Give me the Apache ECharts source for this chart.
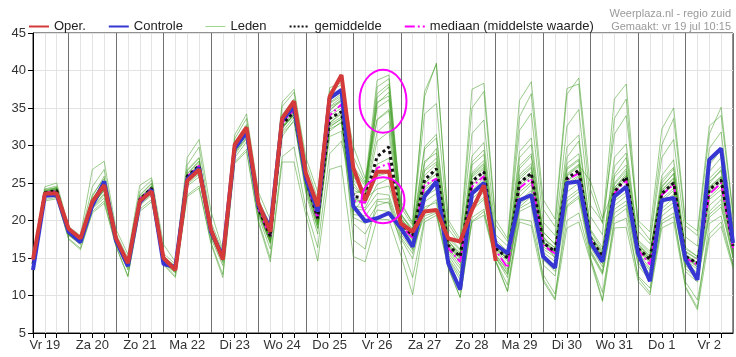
<!DOCTYPE html>
<html><head><meta charset="utf-8">
<script src="https://cdn.jsdelivr.net/npm/echarts@6/dist/echarts.min.js"></script>
<style>html,body{margin:0;padding:0;background:#fff}#c{width:736px;height:357px}</style>
</head><body><div id="c"></div>
<script>
// ---- data (6-hourly, Vr 19 06:00 .. Za 3 00:00) ----
const dayLabels = ['Vr 19','Za 20','Zo 21','Ma 22','Di 23','Wo 24','Do 25','Vr 26','Za 27','Zo 28','Ma 29','Di 30','Wo 31','Do 1','Vr 2','Za 3'];
const hourLabels = ['00','06','12','18'];
const yTicks = [5,10,15,20,25,30,35,40,45];

const oper = [14.8,23.6,23.6, 18.9,17.6,22.5,24.7, 17.6,14.3,22.6,23.9, 15.0,13.4,25.3,26.8,
  18.8,14.8,30.1,32.4, 22.3,18.5,33.6,35.9, 26.3,21.9,36.5,39.4, 27.0,22.7,26.5,26.5,
  19.6,18.5,21.2,21.4, 17.6,17.2,21.4,24.7, 14.6];
const controle = [13.4,23.3,23.4, 18.5,17.1,22.0,25.2, 17.3,13.9,22.4,24.1, 14.2,13.8,25.5,27.0,
  18.5,15.2,29.6,31.8, 22.0,19.0,33.4,35.2, 25.6,21.2,36.3,37.4, 21.9,19.9,20.3,21.0,
  19.0,16.5,23.2,25.2, 14.3,10.8,23.6,25.0, 16.8,15.6,22.7,23.4, 15.2,13.7,25.0,25.2,
  17.0,14.5,23.2,24.5, 15.6,11.9,22.7,23.0, 14.8,12.1,28.1,29.6, 17.0];
const gemiddelde = [14.2,23.7,24.0, 18.4,17.3,22.4,24.6, 17.4,14.2,22.8,24.3, 14.7,13.6,25.9,27.3,
  18.5,15.0,29.6,31.8, 21.6,17.9,32.8,34.5, 25.5,20.3,33.6,34.5, 23.2,23.0,28.5,29.8,
  19.6,18.0,25.4,26.9, 16.7,15.2,25.2,26.5, 16.3,15.0,25.0,26.3, 17.0,15.9,25.6,26.7,
  17.6,15.2,23.8,25.8, 16.3,14.8,23.6,25.0, 15.2,14.3,24.1,25.4, 16.6];
const mediaan = [14.3,23.7,23.9, 18.4,17.3,22.3,24.5, 17.4,14.1,22.9,24.3, 14.6,13.6,25.9,27.3,
  18.4,14.9,29.6,31.9, 21.5,17.8,33.0,34.8, 25.3,20.2,34.0,35.5, 22.6,22.4,27.0,27.6,
  19.3,17.7,24.7,25.6, 16.3,14.5,24.5,25.9, 16.0,13.7,24.3,25.6, 16.7,15.6,25.4,26.3,
  17.4,14.8,23.6,25.4, 16.1,14.1,23.4,24.8, 15.0,14.1,23.5,25.0, 16.3];

const leden1 = [14.6,24.2,24.6, 18.9,17.8,24.5,26.8, 18.2,15.0,23.9,25.4, 15.6,14.2,27.4,29.8, 19.8,15.8,30.9,33.6, 22.8,19.4,35.2,37.1, 27.6,22.9,37.2,38.1, 28.5,25.1,38.7,39.4, 22.1,19.8,36.5,41.0, 19.6,17.1,35.0,37.2, 19.4,17.2,33.8,36.9, 21.5,19.2,36.8,39.0, 24.1,19.6,36.2,38.2, 19.5,17.4,30.1,33.6, 19.3,18.0,31.5,35.1, 21.0];
const leden2 = [13.6,22.6,22.9, 17.5,16.1,21.0,22.3, 16.5,12.5,21.2,22.5, 14.1,12.4,23.2,24.3, 16.9,12.4,27.6,29.2, 19.7,14.5,27.8,27.8, 20.7,14.6,26.8,27.3, 15.2,14.5,20.2,20.1, 15.4,10.1,19.8,20.7, 13.6,9.7,19.8,20.7, 14.5,10.5,19.8,19.3, 11.9,9.4,19.0,19.8, 14.5,9.2,19.0,19.1, 11.9,10.1,19.0,19.8, 11.0,8.1,17.6,19.2, 13.6];
const leden3 = [14.3,24.0,24.4, 18.6,17.6,23.2,25.9, 17.8,14.6,23.4,25.0, 15.1,13.9,26.8,28.4, 19.2,15.4,30.4,32.8, 22.4,18.6,34.1,36.2, 26.8,21.4,36.3,37.6, 26.0,23.8,36.9,38.2, 21.0,18.4,29.5,31.0, 17.4,15.2,27.8,29.4, 17.0,15.2,28.4,30.1, 17.9,15.6,27.6,28.9, 18.0,15.4,26.1,28.4, 16.8,15.0,25.0,26.9, 15.6,14.2,26.5,28.4, 17.2];
const leden4 = [14.0,23.5,24.1, 18.3,17.2,22.0,24.0, 17.2,14.1,22.9,24.6, 14.6,13.4,25.5,27.0, 18.3,14.8,29.2,31.5, 21.4,17.6,33.0,35.0, 25.7,20.5,34.6,36.2, 25.0,22.8,35.6,37.1, 22.6,19.5,37.2,40.8, 20.1,17.5,37.5,38.3, 20.1,17.6,36.0,38.5, 22.8,20.2,37.6,38.2, 22.0,19.8,31.5,34.0, 20.0,18.5,32.2,35.0, 19.8,18.6,32.6,34.0, 20.8];
const leden5 = [14.2,23.7,24.0, 18.4,17.3,22.3,24.4, 17.4,14.2,22.8,24.3, 14.7,13.6,25.8,27.2, 18.5,15.1,29.6,31.8, 21.6,17.9,32.9,34.7, 25.5,20.4,33.9,35.0, 22.8,22.6,27.5,28.3, 19.4,17.8,25.0,26.2, 16.5,14.8,24.8,26.0, 16.0,14.6,24.6,25.9, 16.8,15.7,25.4,26.5, 17.3,15.0,23.7,25.6, 16.1,14.5,23.5,24.9, 15.1,14.0,23.8,25.0, 16.4];
const leden6 = [14.1,23.4,23.8, 18.2,17.0,21.8,23.6, 17.1,13.8,22.3,23.8, 14.4,13.1,25.0,26.6, 18.0,14.6,29.0,31.2, 21.0,17.1,32.2,34.2, 24.8,19.6,33.0,34.4, 21.9,21.7,24.8,25.6, 19.0,17.2,23.8,24.7, 16.0,14.0,23.4,24.9, 15.5,13.2,23.2,24.8, 16.2,15.1,24.6,25.8, 16.9,14.2,23.1,24.6, 15.8,13.6,22.6,24.0, 14.7,13.5,22.8,24.1, 16.0];
const leden7 = [14.5,23.9,24.3, 18.7,17.6,22.9,25.2, 17.6,14.5,22.5,23.9, 14.9,13.8,26.2,27.9, 18.9,15.4,29.9,32.1, 21.2,17.0,31.6,33.2, 24.0,18.9,31.2,31.9, 19.6,18.2,21.4,21.2, 17.6,14.9,21.8,22.4, 14.9,12.1,21.4,22.8, 15.0,12.4,21.6,22.5, 14.1,12.6,22.0,23.3, 15.6,12.8,21.0,22.1, 14.0,12.0,20.6,21.9, 13.2,11.8,20.4,21.8, 15.0];
const leden8 = [15.5,24.5,25.0, 19.2,18.0,26.8,27.9, 18.8,15.5,24.7,25.7, 16.8,14.5,28.4,30.8, 21.2,16.1,31.4,34.2, 23.8,20.1,35.8,37.5, 28.4,23.8,37.7,38.4, 29.9,25.6,33.5,34.8, 20.6,18.8,27.6,29.6, 17.9,16.2,26.4,28.0, 16.8,15.4,26.9,28.6, 18.4,16.9,28.4,30.6, 18.8,16.4,27.2,29.0, 17.4,15.9,24.4,26.3, 16.2,15.2,24.9,26.8, 18.0];
const leden9 = [13.8,22.8,23.1, 17.6,16.3,21.2,22.6, 16.6,12.6,21.5,22.8, 14.2,12.6,23.4,24.6, 17.1,12.8,27.8,29.5, 20.0,15.0,28.5,29.8, 21.6,16.4,28.9,30.6, 23.5,24.2,37.8,38.9, 21.8,19.3,34.2,35.6, 18.9,16.8,31.6,33.4, 18.1,16.6,32.0,34.3, 19.8,18.0,32.6,34.8, 20.5,18.1,33.6,36.2, 18.6,16.9,28.4,30.8, 17.8,16.6,29.6,31.8, 19.2];
const leden10 = [14.4,23.8,24.2, 18.5,17.5,22.6,24.8, 17.5,14.3,23.1,24.5, 14.8,13.7,26.0,27.6, 18.7,15.2,29.8,32.0, 21.8,18.2,33.4,35.3, 26.0,21.0,34.8,35.9, 24.5,23.1,30.6,31.8, 20.2,18.6,26.8,28.3, 17.2,15.7,26.2,27.6, 16.6,15.5,26.1,27.6, 17.5,16.4,26.8,28.0, 18.1,15.8,25.0,26.9, 16.9,15.3,24.6,26.2, 15.9,14.9,25.2,26.6, 17.1];
const leden11 = [13.9,23.2,23.5, 18.0,16.8,21.6,23.0, 16.9,13.4,22.0,23.4, 14.3,13.0,24.6,25.8, 17.6,14.0,28.4,30.5, 20.6,16.2,31.2,33.4, 23.6,18.2,31.9,33.2, 20.8,20.6,22.8,22.9, 18.2,16.0,22.5,23.6, 15.4,13.0,22.2,23.8, 15.0,12.8,21.8,23.2, 15.2,13.8,23.0,24.2, 16.0,13.2,22.0,23.3, 15.0,12.8,21.6,23.0, 14.0,12.5,21.2,22.8, 15.4];
const leden12 = [14.2,23.6,23.9, 18.4,17.2,22.1,24.2, 17.3,14.0,22.6,24.0, 14.6,13.5,25.6,26.9, 18.3,14.9,29.3,31.5, 21.5,17.5,33.2,35.6, 26.2,21.8,35.7,36.9, 27.2,24.9,36.4,37.8, 19.8,16.2,20.6,21.2, 14.2,10.6,20.4,21.5, 14.6,11.4,20.2,19.9, 12.8,10.2,20.0,21.0, 14.8,10.4,19.6,20.3, 12.6,11.0,19.6,20.5, 11.8,9.4,18.2,19.8, 14.0];
const leden13 = [14.0,23.3,23.7, 18.1,17.0,22.4,25.0, 17.0,14.0,22.9,24.4, 14.5,13.4,25.2,26.3, 18.2,14.7,29.1,31.0, 21.2,17.6,32.5,34.1, 25.1,19.9,32.6,33.5, 21.2,23.2,26.0,26.8, 19.2,17.4,24.4,25.6, 16.2,14.4,24.0,25.6, 16.2,14.9,25.1,26.5, 17.2,15.0,26.0,27.4, 25.2,20.3,24.4,26.0, 16.4,14.9,23.3,25.2, 15.3,13.8,24.0,25.4, 16.6];
const leden14 = [14.3,23.6,24.0, 18.3,17.2,22.0,24.2, 17.4,14.4,22.6,24.2, 14.6,13.6,25.7,27.2, 18.4,15.0,29.4,31.6, 21.4,17.2,32.4,34.4, 25.0,19.5,33.0,34.2, 17.4,16.2,22.6,22.3, 17.0,12.4,20.2,21.0, 13.8,9.8,19.9,21.2, 14.6,10.6,21.2,22.0, 12.2,9.6,21.8,23.0, 15.0,9.4,20.4,21.6, 12.4,10.4,20.0,21.0, 11.2,8.4,19.6,20.6, 14.0];
const leden15 = [14.4,23.9,24.3, 18.6,17.4,22.8,25.3, 17.6,14.4,23.0,24.6, 14.9,13.7,26.3,27.9, 18.8,15.3,29.9,32.3, 21.9,18.3,33.5,35.2, 26.1,21.0,35.1,36.0, 25.8,24.0,33.4,34.6, 20.1,18.4,27.9,29.0, 17.0,15.6,27.4,28.8, 16.9,15.6,27.3,28.9, 17.8,16.3,27.0,28.2, 17.9,15.7,25.8,27.4, 16.8,15.2,25.4,27.1, 15.8,14.8,25.6,27.2, 17.0];
const leden16 = [14.0,23.5,23.8, 18.2,17.1,22.1,24.0, 17.2,13.9,22.6,24.0, 14.5,13.4,25.4,26.8, 18.2,14.8,29.3,31.4, 21.3,17.5,32.4,34.0, 25.0,19.8,32.8,33.8, 23.0,22.2,25.9,26.4, 19.0,17.6,24.1,25.3, 16.2,14.6,23.9,25.2, 15.8,14.2,23.8,25.1, 16.5,15.4,24.9,26.0, 17.0,14.8,22.8,24.9, 15.9,14.3,22.9,24.3, 14.9,13.8,23.1,24.6, 16.2];
const leden17 = [14.2,23.8,24.1, 18.5,17.4,22.5,24.6, 17.5,14.1,22.7,24.1, 14.8,13.5,25.9,27.4, 18.6,15.0,29.7,31.9, 21.7,17.8,33.1,35.0, 25.6,20.6,34.3,35.4, 24.0,23.5,31.8,33.2, 19.8,18.2,26.0,27.5, 16.8,15.3,25.8,27.1, 16.4,15.1,25.5,27.0, 17.2,16.0,25.9,27.2, 17.6,15.3,24.3,26.3, 16.5,14.9,24.0,25.6, 15.4,14.4,24.5,25.9, 16.8];
const leden18 = [14.3,23.6,24.1, 18.4,17.3,22.4,24.7, 17.3,14.2,22.9,24.4, 14.6,13.7,26.0,27.1, 18.5,15.0,29.5,31.7, 21.5,17.7,32.6,34.5, 25.2,20.1,33.4,34.6, 22.3,22.9,24.2,24.6, 19.3,18.0,24.8,26.8, 16.6,15.0,25.4,26.9, 16.2,15.0,24.9,26.2, 17.0,15.8,25.2,26.4, 17.4,15.1,23.9,26.0, 16.2,14.6,23.8,25.3, 15.2,14.2,24.2,25.6, 16.5];
const leden19 = [14.6,24.1,24.4, 18.8,17.6,23.4,25.6, 17.8,14.7,23.3,24.9, 15.2,13.9,26.6,28.3, 19.1,15.5,30.2,32.6, 22.2,18.6,33.9,35.7, 26.5,21.5,35.6,36.6, 26.8,24.6,35.0,36.1, 20.8,18.9,29.8,31.5, 17.6,16.0,28.6,30.4, 17.4,15.9,29.2,31.0, 18.5,16.8,29.8,31.4, 18.6,16.0,28.4,30.2, 17.2,15.6,26.0,28.1, 16.4,15.2,27.4,29.4, 17.6];
const leden20 = [13.9,23.4,23.6, 18.1,16.9,21.7,23.4, 17.0,13.6,22.2,23.6, 14.4,13.2,24.8,26.2, 17.9,14.4,28.8,30.9, 20.9,16.9,31.8,33.8, 24.3,19.0,32.2,33.0, 21.5,21.4,23.6,23.4, 18.6,16.6,23.2,24.2, 15.7,13.6,22.9,24.3, 15.3,13.5,22.6,24.0, 15.8,14.5,23.8,25.0, 16.4,13.8,22.6,23.8, 15.4,13.3,22.2,23.5, 14.4,13.0,22.0,23.4, 15.7];
const leden21 = [14.1,23.7,24.2, 18.5,17.2,22.8,24.9, 17.5,14.3,22.8,24.2, 14.7,13.6,25.9,27.3, 18.6,15.1,29.6,31.8, 21.7,17.9,33.3,35.4, 26.0,21.2,35.2,36.4, 25.4,23.9,35.8,36.6, 20.4,18.1,26.6,27.8, 16.7,15.1,26.0,27.4, 16.3,14.9,25.8,27.2, 17.1,15.9,26.2,27.5, 17.5,15.1,24.8,26.6, 16.3,14.7,24.1,25.7, 15.3,14.3,24.4,25.8, 16.7];
const leden22 = [14.2,23.5,23.9, 18.3,17.1,22.2,24.3, 17.2,14.0,22.7,24.2, 14.6,13.5,25.6,27.0, 18.3,14.8,29.4,31.5, 21.3,17.3,32.3,34.1, 24.6,19.4,32.4,33.6, 20.4,19.6,22.0,22.5, 17.8,15.6,21.4,22.8, 15.0,12.6,21.8,23.1, 15.2,12.9,22.2,23.4, 14.8,13.2,22.6,23.8, 15.8,13.0,21.5,22.6, 14.4,12.4,21.2,22.4, 13.6,12.2,20.8,22.2, 15.2];
const leden = [leden1,leden2,leden3,leden4,leden5,leden6,leden7,leden8,leden9,leden10,leden11,
  leden12,leden13,leden14,leden15,leden16,leden17,leden18,leden19,leden20,leden21,leden22];

// ---- build categories ----
const nPoints = 60;
const categories = [];
for (let i = 0; i < nPoints; i++) {
  const k = i + 1; // first point is 06:00 of day 0
  categories.push(dayLabels[Math.floor(k / 4)] + ' ' + hourLabels[k % 4]);
}

const FONT = 'Liberation Sans, Arial, sans-serif';
const chart = echarts.init(document.getElementById('c'), null, {renderer: 'canvas'});

const series = [];
leden.forEach(function (arr) {
  series.push({
    name: 'Leden', type: 'line', data: arr, symbol: 'none', z: 2,
    lineStyle: {color: '#3a9a1c', width: 1, opacity: 0.5},
    itemStyle: {color: '#9bd67f'},
    emphasis: {disabled: true}
  });
});
series.push({
  name: 'mediaan (middelste waarde)', type: 'line', data: mediaan, symbol: 'none', z: 3,
  lineStyle: {color: '#ff00ff', width: 2, type: [10, 3, 2, 3]}, itemStyle: {color: '#ff00ff'}
});
series.push({
  name: 'gemiddelde', type: 'line', data: gemiddelde, symbol: 'none', z: 4,
  lineStyle: {color: '#111', width: 3, type: 'dotted'}, itemStyle: {color: '#111'}
});
series.push({
  name: 'Controle', type: 'line', data: controle, symbol: 'none', z: 5,
  lineStyle: {color: '#3636d2', width: 4}, itemStyle: {color: '#3636d2'}
});
series.push({
  name: 'Oper.', type: 'line', data: oper, symbol: 'none', z: 6,
  lineStyle: {color: '#d43a3a', width: 4}, itemStyle: {color: '#d43a3a'}
});

chart.setOption({
  animation: false,
  backgroundColor: '#fff',
  textStyle: {fontFamily: FONT},
  legend: {
    left: 23, top: 15, itemWidth: 20, itemHeight: 10, itemGap: 22,
    itemStyle: {opacity: 0},
    textStyle: {fontSize: 13, color: '#222', fontFamily: FONT},
    data: [
      {name: 'Oper.'},
      {name: 'Controle'},
      {name: 'Leden', lineStyle: {color: '#9fd88a', opacity: 1, width: 1}},
      {name: 'gemiddelde'},
      {name: 'mediaan (middelste waarde)'}
    ]
  },
  grid: {left: 33, right: 3, top: 33, bottom: 24, show: true, borderColor: '#222', borderWidth: 1},
  xAxis: {
    type: 'category', data: categories, boundaryGap: false,
    axisLine: {lineStyle: {color: '#000', width: 1}},
    axisTick: {show: true, length: 5, interval: function (i) { return i % 4 !== 3; }, lineStyle: {color: '#000'}},
    axisLabel: {
      interval: function (i) { return i % 4 === 1; },
      formatter: function (v) { return v.split(' ').slice(0, 2).join(' '); },
      fontSize: 13, color: '#333', margin: 6, fontFamily: FONT
    },
    splitLine: {show: true, interval: 0, lineStyle: {color: ['#e3e3e3', '#e3e3e3', '#e3e3e3', '#707070'], width: 1}}
  },
  yAxis: {
    type: 'value', min: yTicks[0], max: yTicks[yTicks.length - 1], interval: 5,
    axisLine: {show: true, lineStyle: {color: '#000'}},
    axisTick: {show: true, length: 5, lineStyle: {color: '#000'}},
    axisLabel: {fontSize: 13, color: '#333', margin: 7, fontFamily: FONT},
    splitLine: {show: true, lineStyle: {color: '#e3e3e3', width: 1}}
  },
  series: series
});

// annotations (magenta hand-drawn ellipses around the Vr 26 forecast)
const annotations = [
  {idxA: 29, idxB: 30, value: 35.9, rx: 23.5, ry: 31.5},
  {idxA: 29, idxB: 30, value: 22.7, rx: 21.5, ry: 23}
];
const graphics = annotations.map(function (a) {
  const pa = chart.convertToPixel({gridIndex: 0}, [a.idxA, a.value]);
  const pb = chart.convertToPixel({gridIndex: 0}, [a.idxB, a.value]);
  return {
    type: 'ellipse', z: 100,
    shape: {cx: (pa[0] + pb[0]) / 2, cy: pa[1], rx: a.rx, ry: a.ry},
    style: {fill: 'none', stroke: '#ff00ff', lineWidth: 2}
  };
});
graphics.push({
  type: 'text', right: 5, top: 7, z: 100,
  style: {text: 'Weerplaza.nl - regio zuid\nGemaakt: vr 19 jul 10:15', fill: '#9a9a9a',
    font: '11px ' + FONT, textAlign: 'right', lineHeight: 13}
});
chart.setOption({graphic: graphics});
</script>
</body></html>
